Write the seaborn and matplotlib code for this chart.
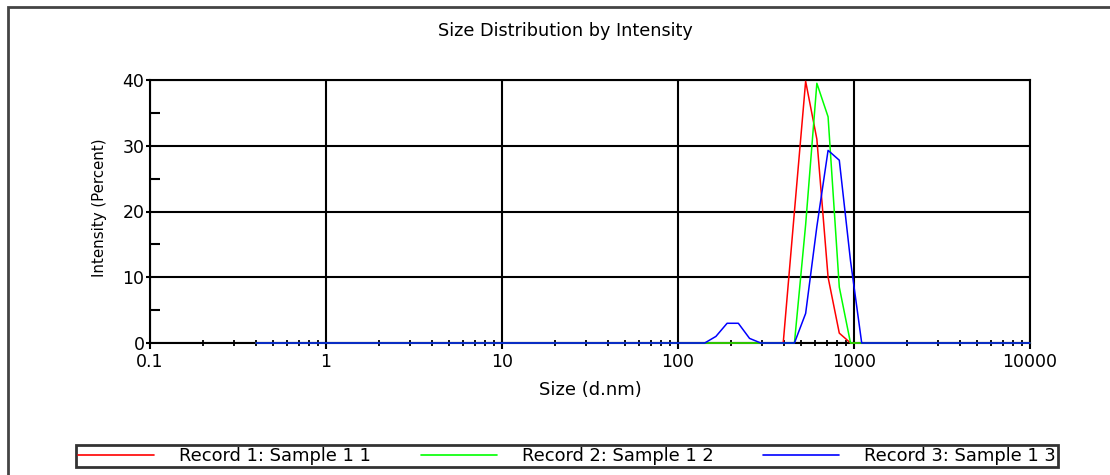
import numpy as np
import pandas as pd
import matplotlib
matplotlib.use("Agg")
import matplotlib.pyplot as plt
from matplotlib.lines import Line2D
from matplotlib.patches import Rectangle
from matplotlib.ticker import LogLocator, FixedLocator, NullFormatter
import seaborn as sns

# ---------------- data ----------------
size_nm = [0.4, 0.4632, 0.5365, 0.6213, 0.7195, 0.8332, 0.9649, 1.117, 1.294, 1.499,
           1.736, 2.01, 2.328, 2.696, 3.122, 3.615, 4.187, 4.849, 5.615, 6.503,
           7.531, 8.721, 10.1, 11.7, 13.54, 15.69, 18.17, 21.04, 24.36, 28.21,
           32.67, 37.84, 43.82, 50.75, 58.77, 68.06, 78.82, 91.28, 105.7, 122.4,
           141.8, 164.2, 190.1, 220.2, 255.0, 295.3, 342.0, 396.1, 458.7, 531.2,
           615.1, 712.4, 825.0, 955.4, 1106, 1281, 1484, 1718, 1990, 2305,
           2669, 3091, 3580, 4145, 4801, 5560, 6439, 7456, 8635, 10000]

record1 = [0, 0, 0, 0, 0, 0, 0, 0, 0, 0,
           0, 0, 0, 0, 0, 0, 0, 0, 0, 0,
           0, 0, 0, 0, 0, 0, 0, 0, 0, 0,
           0, 0, 0, 0, 0, 0, 0, 0, 0, 0,
           0, 0, 0, 0, 0, 0, 0, 0, 20.0, 39.8,
           31.0, 10.0, 1.5, 0, 0, 0, 0, 0, 0, 0,
           0, 0, 0, 0, 0, 0, 0, 0, 0, 0]

record2 = [0, 0, 0, 0, 0, 0, 0, 0, 0, 0,
           0, 0, 0, 0, 0, 0, 0, 0, 0, 0,
           0, 0, 0, 0, 0, 0, 0, 0, 0, 0,
           0, 0, 0, 0, 0, 0, 0, 0, 0, 0,
           0, 0, 0, 0, 0, 0, 0, 0, 0, 18.0,
           39.5, 34.4, 8.5, 0, 0, 0, 0, 0, 0, 0,
           0, 0, 0, 0, 0, 0, 0, 0, 0, 0]

record3 = [0, 0, 0, 0, 0, 0, 0, 0, 0, 0,
           0, 0, 0, 0, 0, 0, 0, 0, 0, 0,
           0, 0, 0, 0, 0, 0, 0, 0, 0, 0,
           0, 0, 0, 0, 0, 0, 0, 0, 0, 0,
           0, 1.0, 3.0, 3.0, 0.7, 0, 0, 0, 0, 4.5,
           17.7, 29.3, 27.8, 12.5, 0, 0, 0, 0, 0, 0,
           0, 0, 0, 0, 0, 0, 0, 0, 0, 0]

series_names = ["Record 1: Sample 1 1", "Record 2: Sample 1 2", "Record 3: Sample 1 3"]
series_colors = ["#ff0000", "#00ff00", "#0000ff"]
x_tick_values = [0.1, 1, 10, 100, 1000, 10000]
x_tick_labels = ["0.1", "1", "10", "100", "1000", "10000"]
y_tick_values = [0, 10, 20, 30, 40]

df = pd.concat([
    pd.DataFrame({"Size": size_nm, "Intensity": vals, "Record": name})
    for name, vals in zip(series_names, [record1, record2, record3])
], ignore_index=True)

# ---------------- style ----------------
sns.set_style("white")
plt.rcParams["font.family"] = ["DejaVu Sans"]
plt.rcParams["text.color"] = "black"
plt.rcParams["axes.labelcolor"] = "black"

W, H = 1110, 475
fig = plt.figure(figsize=(W / 100, H / 100), dpi=100)
ax = fig.add_axes([150 / W, 1 - 343 / H, 880 / W, 263 / H])

sns.lineplot(data=df, x="Size", y="Intensity", hue="Record",
             hue_order=series_names, palette=series_colors,
             estimator=None, sort=False, linewidth=1.1, legend=False, ax=ax)
for ln in ax.get_lines():
    ln.set_clip_on(False)
    ln.set_zorder(3)

ax.set_xscale("log")
ax.set_xlim(0.1, 10000)
ax.set_ylim(0, 40)

ax.xaxis.set_major_locator(FixedLocator(x_tick_values))
ax.set_xticklabels(x_tick_labels)
ax.xaxis.set_minor_locator(LogLocator(base=10, subs=np.arange(2, 10), numticks=20))
ax.xaxis.set_minor_formatter(NullFormatter())
ax.yaxis.set_major_locator(FixedLocator(y_tick_values))
ax.yaxis.set_minor_locator(FixedLocator([5, 15, 25, 35]))

ax.grid(True, which="major", color="black", linewidth=1.5)
ax.set_axisbelow(True)
for sp in ax.spines.values():
    sp.set_color("black")
    sp.set_linewidth(1.5)
    sp.set_zorder(2)

ax.tick_params(axis="x", which="both", bottom=True, top=False)
ax.tick_params(axis="y", which="both", left=True, right=False)
ax.tick_params(axis="x", which="major", direction="out", length=4, width=1.5,
               labelsize=12.5, pad=3, colors="black")
ax.tick_params(axis="x", which="minor", direction="inout", length=4, width=1.3,
               colors="black")
ax.tick_params(axis="y", which="major", direction="out", length=3, width=1.5,
               labelsize=12.5, pad=1, colors="black")
ax.tick_params(axis="y", which="minor", direction="in", length=7, width=1.5,
               colors="black")

ax.set_xlabel("Size (d.nm)", fontsize=13)
ax.set_ylabel("Intensity (Percent)", fontsize=10.8)
ax.xaxis.set_label_coords(0.5, (343 - 381) / 263)
ax.yaxis.set_label_coords(-(150 - 107) / 880, (343 - 208) / 263)

fig.text(565 / W, 1 - 31 / H, "Size Distribution by Intensity",
         ha="center", va="center", fontsize=12.7)

# legend
leg_fs = 12.9
em = leg_fs * 100 / 72
handles = [Line2D([], [], color=c, linewidth=1.2) for c in series_colors]
leg = fig.legend(handles, series_names, loc="center", ncol=3,
                 bbox_to_anchor=(567 / W, 1 - 456 / H),
                 fontsize=leg_fs, frameon=True, fancybox=False,
                 handlelength=76 / em, handletextpad=25 / em, columnspacing=50 / em,
                 borderpad=0.12, borderaxespad=0)
leg.get_frame().set_edgecolor("black")
leg.get_frame().set_linewidth(2)

# outer frame (top and left edges visible)
fig.patches.append(Rectangle((8 / W, -0.5), 2.0, 1 - 7 / H + 0.5,
                             transform=fig.transFigure, fill=False,
                             edgecolor="#444444", linewidth=2))

fig.savefig("out.png", dpi=100)
